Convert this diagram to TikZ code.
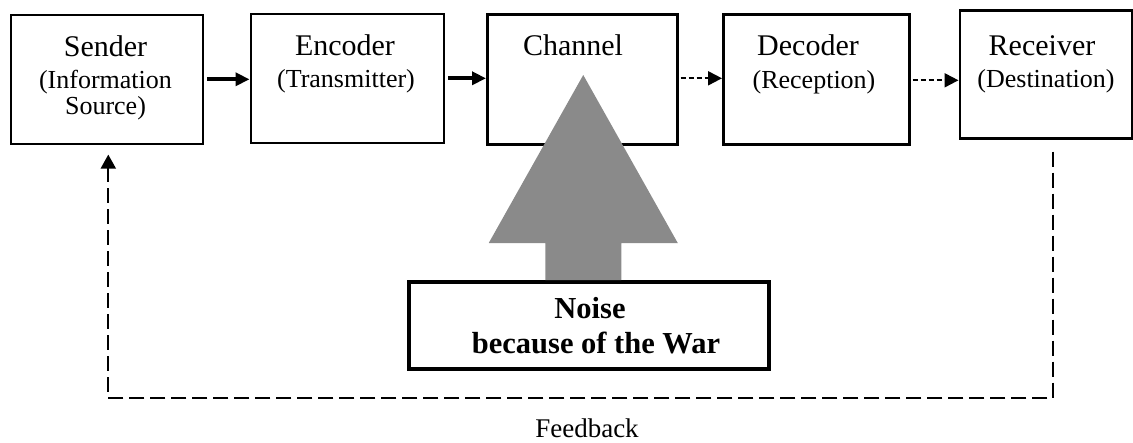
\documentclass[tikz,border=0pt]{standalone}
\usepackage{fontspec}
\setmainfont{Liberation Serif}
\usetikzlibrary{arrows.meta,calc}

\definecolor{noisegray}{RGB}{138,138,138}

\begin{document}
\begin{tikzpicture}[x=1pt,y=-1pt,
  stagebox/.style={draw=black,line width=2.6pt,fill=white,rectangle,inner sep=0pt,anchor=north west},
  title/.style={anchor=base,inner sep=0pt,font=\fontsize{30}{32}\selectfont},
  subtitle/.style={anchor=base,inner sep=0pt,font=\fontsize{26}{27}\selectfont},
  noisetext/.style={anchor=base,inner sep=0pt,font=\fontsize{30.5}{32}\selectfont\bfseries},
  flowsolid/.style={line width=4pt,-{Triangle[length=14pt,width=13pt]},shorten <=3pt},
  flowdash/.style={line width=2pt,dash pattern=on 5pt off 3pt,-{Triangle[length=14pt,width=14pt]},shorten <=2pt},
  feedback/.style={line width=2pt,dash pattern=on 15pt off 6pt,-{Triangle[length=14pt,width=15pt]}}
]
\useasboundingbox (0,0) rectangle (1133,442);

% stages of the communication chain
\node[stagebox,minimum width=192pt,minimum height=129pt] (sender)   at (9.5,13.5) {};
\node[stagebox,minimum width=193pt,minimum height=129pt] (encoder)  at (249.5,12.5) {};
\node[stagebox,minimum width=190pt,minimum height=130pt] (channel)  at (486,13) {};
\node[stagebox,minimum width=186pt,minimum height=130pt] (decoder)  at (722,13) {};
\node[stagebox,minimum width=172pt,minimum height=128pt] (receiver) at (958.5,9) {};

% stage labels
\node[title]    (senderA)   at (105.5,56)  {Sender};
\node[subtitle] (senderB)   at (105.5,88)  {(Information};
\node[subtitle] (senderC)   at (105.5,114) {Source)};
\node[title]    (encoderA)  at (345,55)    {Encoder};
\node[subtitle] (encoderB)  at (346,87)    {(Transmitter)};
\node[title]    (channelA)  at (573,55)    {Channel};
\node[title]    (decoderA)  at (808,55)    {Decoder};
\node[subtitle] (decoderB)  at (814,88)    {(Reception)};
\node[title]    (receiverA) at (1042,55)   {Receiver};
\node[subtitle] (receiverB) at (1046,87)   {(Destination)};

% forward flow
\draw[flowsolid] (sender.east) -- (sender.east -| encoder.west);
\draw[flowsolid] (encoder.east) -- (encoder.east -| channel.west);
\draw[flowdash]  ($(channel.east)+(0,-1)$) -- ($(channel.east -| decoder.west)+(0,-1)$);
\draw[flowdash]  ($(decoder.east)+(0,1)$) -- ($(decoder.east -| receiver.west)+(0,1)$);

% noise source
\node[stagebox,line width=3.5pt,minimum width=360pt,minimum height=87pt] (noise) at (407,280) {};
\node[noisetext] (noiseA) at (590,318) {Noise};
\node[noisetext] (noiseB) at (596,353) {because of the War};

% big block arrow from the noise source into the channel
\coordinate (nb) at ($(noise.north)+(-5.5,0)$);
\fill[noisegray] (nb) ++(-38,0) -- ++(0,-37) -- ++(-56.5,0) -- ++(94.5,-168)
  -- ++(94.5,168) -- ++(-56.5,0) -- ++(0,37) -- cycle;

% feedback loop
\coordinate (fbstart) at ($(receiver.south)+(7.5,12)$);
\coordinate (fbend)   at ($(sender.south)+(1.5,9.5)$);
\draw[feedback] (fbstart) -- ++(0,246) -| (fbend);
\node[anchor=base,inner sep=0pt,font=\fontsize{27}{28}\selectfont] (fblabel) at (587,437) {Feedback};
\end{tikzpicture}
\end{document}
